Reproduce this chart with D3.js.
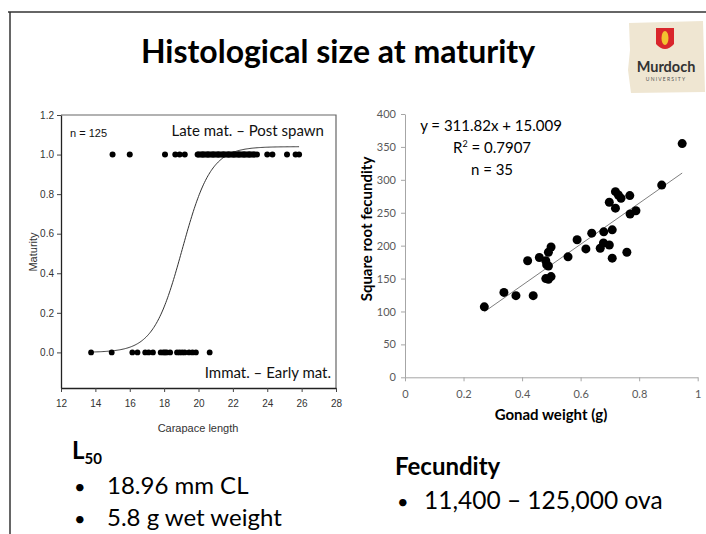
<!DOCTYPE html>
<html><head><meta charset="utf-8">
<script src="https://cdn.jsdelivr.net/npm/d3@7"></script>
<style>body{margin:0;background:#fff}svg{display:block}</style>
</head><body>
<svg id="c" width="706" height="534"></svg>
<script>
// ---------- DATA ----------
const titleText = "Histological size at maturity";
// Left chart: maturity (0/1) vs carapace length (mm)
const immatureCL = [13.75, 14.95, 16.15, 16.45, 16.9, 17.1, 17.35, 17.8, 17.95, 18.05, 18.15, 18.35, 18.75, 18.9, 19.05, 19.2, 19.45, 19.65, 19.85, 20.65];
const matureCL = [15.0, 16.0, 18.05, 18.65, 18.9, 19.2, 19.95, 20.0, 20.1, 20.2, 20.25, 20.3, 20.4, 20.5, 20.55, 20.6, 20.7, 20.8, 20.85, 20.9, 21.0, 21.1, 21.15, 21.2, 21.3, 21.4, 21.45, 21.5, 21.6, 21.7, 21.75, 21.8, 21.9, 22.0, 22.05, 22.1, 22.2, 22.3, 22.35, 22.4, 22.5, 22.6, 22.65, 22.7, 22.8, 22.9, 22.95, 23.0, 23.1, 23.2, 23.25, 23.4, 24.0, 24.3, 25.15, 25.65, 25.85];
const maturityXTicks = [12, 14, 16, 18, 20, 22, 24, 26, 28];
const maturityYTicks = [0.0, 0.2, 0.4, 0.6, 0.8, 1.0, 1.2];
// fitted logistic curve parameters
const logisticAsym = 1.04, logisticMid = 19.05, logisticSlope = 1.2;
const curveRange = [13.75, 25.85];

// Right chart: square root fecundity vs gonad weight (g)
const gonadWeight = [0.271, 0.338, 0.379, 0.438, 0.419, 0.459, 0.481, 0.484, 0.49, 0.49, 0.499, 0.481, 0.49, 0.499, 0.557, 0.588, 0.618, 0.638, 0.667, 0.678, 0.698, 0.679, 0.708, 0.708, 0.758, 0.698, 0.719, 0.719, 0.729, 0.738, 0.768, 0.769, 0.789, 0.877, 0.947];
const sqrtFecundity = [107, 129, 124, 124, 177, 182, 177, 171, 169, 190, 198, 150, 149, 153, 183, 209, 195, 219, 196, 204, 201, 221, 224, 181, 190, 266, 257, 282, 277, 272, 276, 248, 253, 292, 355];
const fecXTicks = [0, 0.2, 0.4, 0.6, 0.8, 1];
const fecYTicks = [0, 50, 100, 150, 200, 250, 300, 350, 400];
const regSlope = 311.82, regIntercept = 15.009;

// ---------- DRAW ----------
const svg = d3.select("#c");
svg.append("rect").attr("width",706).attr("height",534).attr("fill","#fff");

// slide frame
svg.append("line").attr("x1",8).attr("x2",706).attr("y1",12).attr("y2",12).attr("stroke","#333").attr("stroke-width",1.5);
svg.append("line").attr("x1",10).attr("x2",10).attr("y1",12).attr("y2",534).attr("stroke","#333").attr("stroke-width",1.5);

// title
svg.append("text").attr("x",338).attr("y",63).attr("text-anchor","middle")
  .attr("font-family","Lato, 'Open Sans', sans-serif").attr("font-weight","bold").attr("font-size",32).attr("fill","#000").text(titleText);

// logo
const logo = svg.append("g");
logo.append("path").attr("d","M629,23 L703,21 L705,92 L631,93 L628,70 L630,50 Z").attr("fill","#efe6d2");
logo.append("path").attr("d","M656,28 L674,28 L674,44 Q665,54 656,44 Z").attr("fill","#d9262c");
logo.append("ellipse").attr("cx",665).attr("cy",38).attr("rx",3.5).attr("ry",7).attr("fill","#f2c230");
logo.append("text").attr("x",666).attr("y",72).attr("text-anchor","middle").attr("font-family","Lato, sans-serif").attr("font-weight","bold").attr("font-size",14.5).attr("fill","#333").text("Murdoch");
logo.append("text").attr("x",666).attr("y",81).attr("text-anchor","middle").attr("font-family","Lato, sans-serif").attr("font-size",5).attr("letter-spacing",1.2).attr("fill","#555").text("UNIVERSITY");

// ----- Left chart -----
const narrow = "'Liberation Sans Narrow', 'Liberation Sans', Arial, sans-serif";
const lx = d3.scaleLinear().domain([12,28]).range([61,336]);
const ly = d3.scaleLinear().domain([-0.18,1.2]).range([388,115]);
const L = svg.append("g");
// frame top/right
L.append("path").attr("d",`M${lx(12)},${ly(1.2)} H${lx(28)} V${ly(-0.18)}`).attr("fill","none").attr("stroke","#666").attr("stroke-width",1.2);
const lxAxis = L.append("g").attr("transform",`translate(0,${ly(-0.18)})`)
  .call(d3.axisBottom(lx).tickValues(maturityXTicks).tickSize(4).tickSizeOuter(0).tickFormat(d3.format("d")));
const lyAxis = L.append("g").attr("transform",`translate(${lx(12)},0)`)
  .call(d3.axisLeft(ly).tickValues(maturityYTicks).tickSize(4).tickSizeOuter(0).tickFormat(d3.format(".1f")));
[lxAxis,lyAxis].forEach(a=>{
  a.select(".domain").attr("stroke","#222").attr("stroke-width",1.3);
  a.selectAll(".tick line").attr("stroke","#444");
  a.selectAll(".tick text").attr("font-family",narrow).attr("font-size",10).attr("fill","#333");
});
lxAxis.selectAll(".tick text").attr("dy","1.2em");
L.append("text").attr("x",198).attr("y",432).attr("text-anchor","middle").attr("font-family",narrow).attr("font-size",11).attr("fill","#333").text("Carapace length");
L.append("text").attr("transform","translate(37,252) rotate(-90)").attr("text-anchor","middle").attr("font-family",narrow).attr("font-size",11).attr("fill","#333").text("Maturity");

const logistic = x => logisticAsym/(1+Math.exp(-logisticSlope*(x-logisticMid)));
const curvePts = d3.range(curveRange[0], curveRange[1]+0.001, 0.05).map(x=>[x, logistic(x)]);
L.append("path").datum(curvePts).attr("fill","none").attr("stroke","#333").attr("stroke-width",1)
  .attr("d", d3.line().x(d=>lx(d[0])).y(d=>ly(d[1])));
L.selectAll(".imm").data(immatureCL).join("circle").attr("cx",d=>lx(d)).attr("cy",ly(0)).attr("r",2.9).attr("fill","#000");
L.selectAll(".mat").data(matureCL).join("circle").attr("cx",d=>lx(d)).attr("cy",ly(1)).attr("r",3).attr("fill","#000");

L.append("text").attr("x",70).attr("y",137).attr("font-family","'Liberation Sans', Arial, sans-serif").attr("font-size",11).attr("fill","#111").text("n = 125");
L.append("text").attr("x",324).attr("y",136).attr("text-anchor","end").attr("font-family","Lato, sans-serif").attr("font-size",15).attr("fill","#111").text("Late mat. – Post spawn");
L.append("text").attr("x",331).attr("y",378).attr("text-anchor","end").attr("font-family","Lato, sans-serif").attr("font-size",15).attr("fill","#111").text("Immat. – Early mat.");

// ----- Right chart -----
const rx = d3.scaleLinear().domain([0,1]).range([405,697.7]);
const ry = d3.scaleLinear().domain([0,400]).range([377.3,114]);
const R = svg.append("g");
const rxAxis = R.append("g").attr("transform",`translate(0,${ry(0)})`)
  .call(d3.axisBottom(rx).tickValues(fecXTicks).tickSize(4).tickSizeOuter(0).tickFormat(d=>String(d)));
const ryAxis = R.append("g").attr("transform",`translate(${rx(0)},0)`)
  .call(d3.axisLeft(ry).tickValues(fecYTicks).tickSize(4).tickSizeOuter(0));
[rxAxis,ryAxis].forEach(a=>{
  a.select(".domain").attr("stroke","#a6a6a6");
  a.selectAll(".tick line").attr("stroke","#a6a6a6");
  a.selectAll(".tick text").attr("font-family","Lato, sans-serif").attr("font-size",11).attr("fill","#595959");
});
rxAxis.selectAll(".tick text").attr("dy","1.25em");
ryAxis.selectAll(".tick text").attr("dx","-2");
R.append("text").attr("x",551).attr("y",420).attr("text-anchor","middle").attr("font-family","Lato, sans-serif").attr("font-weight","bold").attr("font-size",15).attr("fill","#000").text("Gonad weight (g)");
R.append("text").attr("transform","translate(372,229) rotate(-90)").attr("text-anchor","middle").attr("font-family","Lato, sans-serif").attr("font-weight","bold").attr("font-size",15).attr("fill","#000").text("Square root fecundity");

const xr = d3.extent(gonadWeight);
R.append("line").attr("x1",rx(xr[0])).attr("x2",rx(xr[1])).attr("y1",ry(regSlope*xr[0]+regIntercept)).attr("y2",ry(regSlope*xr[1]+regIntercept)).attr("stroke","#7f7f7f").attr("stroke-width",1);
R.selectAll(".pt").data(gonadWeight).join("circle").attr("cx",d=>rx(d)).attr("cy",(d,i)=>ry(sqrtFecundity[i])).attr("r",4.5).attr("fill","#000");

R.append("text").attr("x",491).attr("y",131).attr("text-anchor","middle").attr("font-family","Lato, sans-serif").attr("font-size",15).attr("fill","#000").text("y = 311.82x + 15.009");
const r2 = R.append("text").attr("x",492).attr("y",153).attr("text-anchor","middle").attr("font-family","Lato, sans-serif").attr("font-size",15).attr("fill","#000");
r2.append("tspan").text("R");
r2.append("tspan").attr("font-size",9).attr("dy",-6).text("2");
r2.append("tspan").attr("dy",6).text(" = 0.7907");
R.append("text").attr("x",492).attr("y",175).attr("text-anchor","middle").attr("font-family","Lato, sans-serif").attr("font-size",15).attr("fill","#000").text("n = 35");

// ----- bottom text -----
const B = svg.append("g").attr("font-family","Lato, sans-serif").attr("fill","#000");
const l50 = B.append("text").attr("x",72).attr("y",459).attr("font-weight","bold").attr("font-size",24);
l50.append("tspan").text("L");
l50.append("tspan").attr("font-size",15).attr("dy",5).text("50");
B.append("text").attr("x",74).attr("y",494).attr("font-size",20).text("•");
B.append("text").attr("x",107).attr("y",494).attr("font-size",24).text("18.96 mm CL");
B.append("text").attr("x",74).attr("y",526).attr("font-size",20).text("•");
B.append("text").attr("x",107).attr("y",526).attr("font-size",24).text("5.8 g wet weight");
B.append("text").attr("x",395).attr("y",475).attr("font-weight","bold").attr("font-size",24).text("Fecundity");
B.append("text").attr("x",397).attr("y",509).attr("font-size",20).text("•");
B.append("text").attr("x",424).attr("y",509).attr("font-size",24.5).text("11,400 – 125,000 ova");
</script>
</body></html>
